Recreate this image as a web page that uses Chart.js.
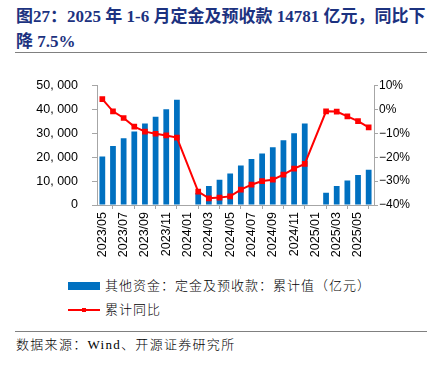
<!DOCTYPE html>
<html>
<head>
<meta charset="utf-8">
<script src="https://cdn.jsdelivr.net/npm/chart.js@4"></script>
<style>
  html,body{margin:0;padding:0;background:#fff;}
  body{width:429px;height:368px;position:relative;overflow:hidden;}
  .title{position:absolute;left:16px;color:#1C3280;font-family:"Liberation Serif","Noto Sans CJK SC",serif;font-weight:bold;font-size:17px;white-space:nowrap;line-height:20px;}
  .hr{position:absolute;left:15px;right:2px;height:0;border-top:1.5px solid #808080;}
  #wrap{position:absolute;left:0;top:64px;width:429px;height:210px;}
  .leg{position:absolute;left:105px;font-family:"Liberation Serif","Noto Sans CJK SC",serif;font-weight:300;font-size:13px;letter-spacing:1px;color:#000;white-space:nowrap;line-height:16px;}
  .src{position:absolute;left:16px;top:337px;font-family:"Liberation Serif","Noto Sans CJK SC",serif;font-weight:300;font-size:13px;letter-spacing:1.3px;color:#000;white-space:nowrap;line-height:16px;}
  .sw{position:absolute;}
</style>
</head>
<body>
<div class="title" style="top:7px;">图27：2025 年 1-6 月定金及预收款 14781 亿元，同比下</div>
<div class="title" style="top:32px;">降 7.5%</div>
<div class="hr" style="top:52px;"></div>
<div id="wrap"><canvas id="c" width="429" height="210"></canvas></div>
<div class="sw" style="left:68px;top:282px;width:32px;height:8px;background:#0070C0;"></div>
<div class="leg" style="top:278px;">其他资金：定金及预收款：累计值（亿元）</div>
<div class="sw" style="left:68px;top:309px;width:32px;height:2px;background:#FF0000;"></div>
<div class="sw" style="left:82px;top:308px;width:4px;height:4px;background:#FF0000;"></div>
<div class="leg" style="top:302px;">累计同比</div>
<div class="hr" style="top:331px;"></div>
<div class="src">数据来源：Wind、开源证券研究所</div>
<script>
const categories = ["2023/05","2023/06","2023/07","2023/08","2023/09","2023/10","2023/11","2023/12",
  "2024/01","2024/02","2024/03","2024/04","2024/05","2024/06","2024/07","2024/08","2024/09","2024/10","2024/11","2024/12",
  "2025/01","2025/02","2025/03","2025/04","2025/05","2025/06"];
const cumulativeValue = [20300,24700,27900,30800,34100,36900,40100,44000,
  null,5000,8000,10600,13200,16500,19200,21600,24200,27100,30000,34100,
  null,5100,7900,10200,12600,14781];
const cumulativeYoY = [4.3,-0.8,-3.6,-7.2,-9.3,-10.2,-10.9,-11.8,
  null,-34.4,-37.2,-36.9,-36.4,-33.6,-31.5,-30.0,-29.4,-27.3,-24.8,-22.8,
  null,-0.8,-0.9,-2.9,-4.9,-7.5];
const leftTicks = [0,10000,20000,30000,40000,50000];
const rightTicks = [10,0,-10,-20,-30,-40];

const tickFont = {family:"'Liberation Sans', Arial, sans-serif", size:12.5};
const axisColor = '#A6A6A6';

new Chart(document.getElementById('c'), {
  data: {
    labels: categories,
    datasets: [
      {type:'line', label:'累计同比', data:cumulativeYoY, yAxisID:'y1', borderColor:'#FF0000', backgroundColor:'#FF0000',
       borderWidth:2, pointStyle:'rect', pointRadius:2.6, pointHoverRadius:2.6, spanGaps:true, tension:0, order:0},
      {type:'bar', label:'其他资金：定金及预收款：累计值（亿元）', data:cumulativeValue, yAxisID:'y', backgroundColor:'#0070C0',
       barPercentage:0.54, categoryPercentage:1.0, order:1}
    ]
  },
  options: {
    responsive:false, animation:false,
    layout:{padding:{top:10,left:0,right:0,bottom:0}},
    plugins:{legend:{display:false}, tooltip:{enabled:false}},
    scales:{
      x:{
        offset:true,
        grid:{display:true, drawOnChartArea:false, offset:true, color:axisColor, tickLength:4, tickColor:axisColor},
        border:{color:axisColor, width:1},
        ticks:{autoSkip:false, maxRotation:90, minRotation:90, padding:3, color:'#000', font:tickFont,
          callback:function(v,i){ return i%2===0 ? categories[i] : null; }},
        afterFit:function(s){ s.height = 69; }
      },
      y:{
        position:'left', min:0, max:50000,
        afterBuildTicks:function(s){ s.ticks = leftTicks.map(v=>({value:v})); },
        grid:{drawOnChartArea:false, color:axisColor, tickLength:5, tickColor:axisColor},
        border:{color:axisColor, width:1},
        ticks:{color:'#000', font:tickFont, padding:14,
          callback:function(v){ return v===0 ? '0' : Math.floor(v/1000)+', '+String(v%1000).padStart(3,'0'); }},
        afterFit:function(s){ s.width = 97; }
      },
      y1:{
        position:'right', min:-40, max:10,
        afterBuildTicks:function(s){ s.ticks = rightTicks.map(v=>({value:v})); },
        grid:{drawOnChartArea:false, color:axisColor, tickLength:4, tickColor:axisColor},
        border:{color:axisColor, width:1},
        ticks:{color:'#000', font:{family:"'Liberation Sans', Arial, sans-serif", size:12}, padding:1,
          callback:function(v){ return (v<0 ? '\u2212'+(-v) : v) + '%'; }},
        afterFit:function(s){ s.width = 55; }
      }
    }
  }
});
</script>
</body>
</html>
